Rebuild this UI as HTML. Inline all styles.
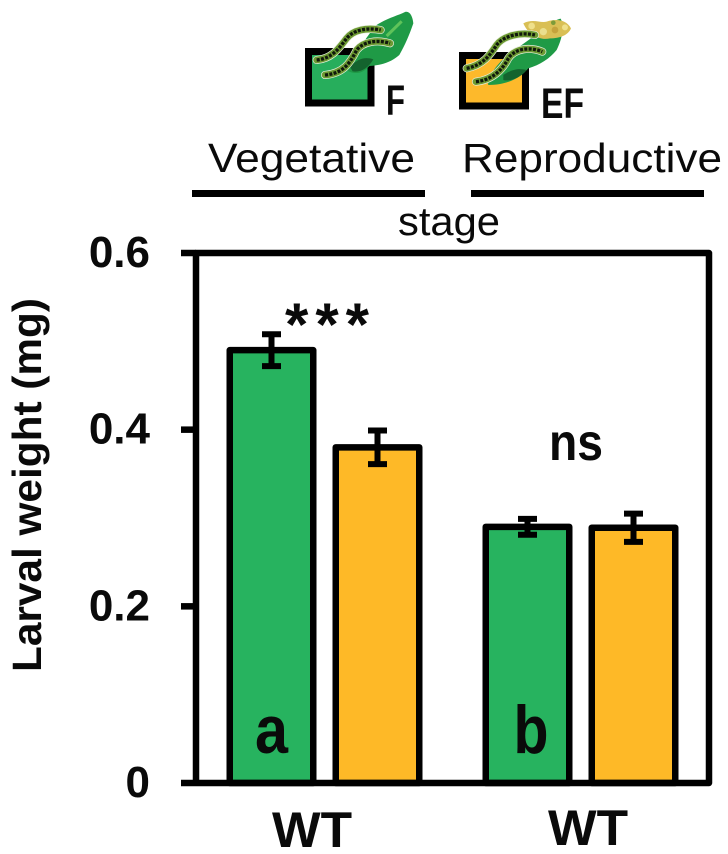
<!DOCTYPE html>
<html lang="en">
<head>
<meta charset="utf-8">
<title>Larval weight chart</title>
<style>
html,body{margin:0;padding:0;background:#fff;width:728px;height:854px;overflow:hidden}
svg{display:block}
text{font-family:"Liberation Sans",sans-serif;fill:#0a0a0a}
.b{font-weight:700}
</style>
</head>
<body>
<svg id="chart" xmlns="http://www.w3.org/2000/svg" width="728" height="854" viewBox="0 0 728 854">
  <rect width="728" height="854" fill="#fff"/>

  <g id="legend">
    <g>
      <rect x="308.5" y="51.5" width="62.5" height="51.5" fill="#27ae5c" stroke="#000" stroke-width="7"/>
      <g transform="translate(290,0) scale(.3333)">
        <path d="M255,78 C290,55 320,48 345,36 C360,32 368,50 370,70 C358,105 345,135 328,165 C305,185 280,195 238,198 C215,225 190,222 172,212 C175,170 200,130 225,120 Z" fill="#1f9a46"/>
        <path d="M290,108 L335,64" stroke="#5fc35a" stroke-width="9" fill="none"/>
        <path d="M180,200 C205,175 225,170 250,178 C235,205 210,218 188,214 Z" fill="#14632e"/>
        <path d="M80,180 C130,175 150,140 170,115 C190,90 230,82 272,90" stroke="#e8efe0" stroke-width="24" fill="none" stroke-linecap="round"/>
        <path d="M80,180 C130,175 150,140 170,115 C190,90 230,82 272,90" stroke="#6d9a32" stroke-width="20" fill="none" stroke-linecap="round"/>
        <path d="M80,180 C130,175 150,140 170,115 C190,90 230,82 272,90" stroke="#10180c" stroke-width="10" stroke-dasharray="9 4" fill="none"/>
        <path d="M105,225 C160,220 180,190 200,150 C220,125 260,118 300,130" stroke="#e8efe0" stroke-width="24" fill="none" stroke-linecap="round"/>
        <path d="M105,225 C160,220 180,190 200,150 C220,125 260,118 300,130" stroke="#6d9a32" stroke-width="20" fill="none" stroke-linecap="round"/>
        <path d="M105,225 C160,220 180,190 200,150 C220,125 260,118 300,130" stroke="#10180c" stroke-width="10" stroke-dasharray="9 4" fill="none"/>
      </g>
      <text class="b" x="386" y="115" font-size="43" textLength="19" lengthAdjust="spacingAndGlyphs">F</text>
    </g>
    <g>
      <rect x="462.5" y="55.5" width="63" height="50.5" fill="#fdb92b" stroke="#000" stroke-width="7"/>
      <g transform="translate(290,0) scale(.3333)">
        <path d="M730,110 C760,85 790,60 812,56 C825,80 815,120 800,150 C780,175 750,195 715,205 C690,235 650,255 595,255 C590,235 620,190 660,160 Z" fill="#1f9a46"/>
        <path d="M640,225 C670,205 690,205 710,210 C690,235 660,245 640,240 Z" fill="#14632e"/>
        <path d="M700,70 C730,55 750,70 770,65 C800,55 830,60 843,85 C835,105 810,115 780,115 C750,122 715,105 700,70 Z" fill="#d9bf55"/>
        <circle cx="725" cy="78" r="10" fill="#efe08a"/><circle cx="760" cy="95" r="11" fill="#eadf8e"/><circle cx="795" cy="90" r="10" fill="#c5a33c"/><circle cx="825" cy="82" r="9" fill="#efe08a"/><circle cx="740" cy="105" r="7" fill="#b89a38"/><circle cx="790" cy="68" r="7" fill="#7d9b38"/>
        <path d="M530,205 C580,195 600,165 620,135 C640,108 690,95 735,105" stroke="#e8efe0" stroke-width="24" fill="none" stroke-linecap="round"/>
        <path d="M530,205 C580,195 600,165 620,135 C640,108 690,95 735,105" stroke="#6d9a32" stroke-width="20" fill="none" stroke-linecap="round"/>
        <path d="M530,205 C580,195 600,165 620,135 C640,108 690,95 735,105" stroke="#10180c" stroke-width="10" stroke-dasharray="9 4" fill="none"/>
        <path d="M558,245 C610,240 640,205 655,175 C675,145 720,140 757,155" stroke="#e8efe0" stroke-width="24" fill="none" stroke-linecap="round"/>
        <path d="M558,245 C610,240 640,205 655,175 C675,145 720,140 757,155" stroke="#6d9a32" stroke-width="20" fill="none" stroke-linecap="round"/>
        <path d="M558,245 C610,240 640,205 655,175 C675,145 720,140 757,155" stroke="#10180c" stroke-width="10" stroke-dasharray="9 4" fill="none"/>
      </g>
      <text class="b" x="541" y="118" font-size="43" textLength="43" lengthAdjust="spacingAndGlyphs">EF</text>
    </g>
  </g>

  <g>
    <text x="208" y="172" font-size="41" textLength="207" lengthAdjust="spacingAndGlyphs">Vegetative</text>
    <text x="462" y="172" font-size="41" textLength="260" lengthAdjust="spacingAndGlyphs">Reproductive</text>
    <rect x="192" y="190" width="233" height="7" fill="#000"/>
    <rect x="471" y="190" width="233" height="7" fill="#000"/>
    <text x="398" y="235" font-size="40" textLength="102" lengthAdjust="spacingAndGlyphs">stage</text>
  </g>

  <g id="marks"></g>
  <g id="axes"></g>

  <text class="b" transform="translate(41,672) rotate(-90)" x="0" y="0" font-size="41" textLength="374" lengthAdjust="spacingAndGlyphs">Larval weight (mg)</text>
  <text class="b" x="285" y="345" font-size="60" textLength="84" lengthAdjust="spacing">***</text>
  <text class="b" x="549" y="460" font-size="52" textLength="54" lengthAdjust="spacingAndGlyphs">ns</text>
</svg>
<script>
var categories = ["WT-vegetative", "WT-vegetative-EF", "WT-reproductive", "WT-reproductive-EF"];
var seriesLabels = ["F", "EF", "F", "EF"];
var means = [0.49, 0.38, 0.29, 0.289];
var errors = [0.018, 0.019, 0.009, 0.016];
var groupLabels = ["WT", "WT"];
var groupLetters = ["a", "b"];
var tickValues = [0, 0.2, 0.4, 0.6];
var tickLabels = ["0", "0.2", "0.4", "0.6"];

var NS = "http://www.w3.org/2000/svg";
var PLOT = {left: 196, right: 709, top: 253, bottom: 783, yMax: 0.6};
var GREEN = "#27b35f";
var ORANGE = "#feb927";

function yScale(v) {
  return PLOT.bottom - (v / PLOT.yMax) * (PLOT.bottom - PLOT.top);
}
function barCenter(i) {
  var group = Math.floor(i / 2);
  var pos = i % 2;
  return 271.5 + group * 256 + pos * 106;
}
function barWidth(i) {
  return 83.5;
}
function make(tag, attrs) {
  var el = document.createElementNS(NS, tag);
  for (var k in attrs) { el.setAttribute(k, attrs[k]); }
  return el;
}

var marks = document.getElementById("marks");
var axes = document.getElementById("axes");

means.forEach(function (m, i) {
  var cx = barCenter(i);
  var w = barWidth(i);
  var top = yScale(m);
  var bar = make("rect", {
    x: cx - w / 2, y: top, width: w, height: PLOT.bottom - top,
    fill: seriesLabels[i] === "F" ? GREEN : ORANGE,
    stroke: "#000", "stroke-width": 6.5, "stroke-linejoin": "round"
  });
  
  
  marks.appendChild(bar);

  var hi = yScale(m + errors[i]);
  var lo = yScale(m - errors[i]);
  var stem = make("line", {x1: cx, x2: cx, y1: hi, y2: lo, stroke: "#000", "stroke-width": 6});
  
  
  marks.appendChild(stem);

  var capTop = make("line", {x1: cx - 9.5, x2: cx + 9.5, y1: hi, y2: hi, stroke: "#000", "stroke-width": 6});
  
  
  marks.appendChild(capTop);

  var capBottom = make("line", {x1: cx - 9.5, x2: cx + 9.5, y1: lo, y2: lo, stroke: "#000", "stroke-width": 6});
  
  
  marks.appendChild(capBottom);
});

var frame = make("path", {
  d: "M" + PLOT.left + " " + PLOT.bottom + "V" + PLOT.top + "H" + PLOT.right + "V" + PLOT.bottom + "H" + PLOT.left,
  fill: "none", stroke: "#000", "stroke-width": 6.5, "stroke-linejoin": "round"
});


axes.appendChild(frame);

tickValues.forEach(function (v, i) {
  var y = yScale(v);
  var tick = make("line", {x1: PLOT.left - 15, x2: PLOT.left, y1: y, y2: y, stroke: "#000", "stroke-width": 6.5});
  
  
  axes.appendChild(tick);

  var label = make("text", {
    x: 150, y: y + 14, "text-anchor": "end", "font-size": 44, "class": "b"
  });
  
  
  label.textContent = tickLabels[i];
  axes.appendChild(label);
});

groupLabels.forEach(function (t, g) {
  var cx = (barCenter(g * 2) + barCenter(g * 2 + 1)) / 2 + (g === 0 ? -12.5 : 7.5);
  var label = make("text", {
    x: cx, y: 847 - g * 2, "text-anchor": "middle", "font-size": 50, "class": "b",
    textLength: 80, lengthAdjust: "spacingAndGlyphs"
  });
  
  
  label.textContent = t;
  axes.appendChild(label);

  var letter = make("text", {
    x: barCenter(g * 2) + (g === 0 ? 0 : 3.5), y: 753, "text-anchor": "middle", "font-size": 68, "class": "b",
    textLength: g === 0 ? 33 : 35, lengthAdjust: "spacingAndGlyphs"
  });
  
  
  letter.textContent = groupLetters[g];
  axes.appendChild(letter);
});
</script>
</body>
</html>
